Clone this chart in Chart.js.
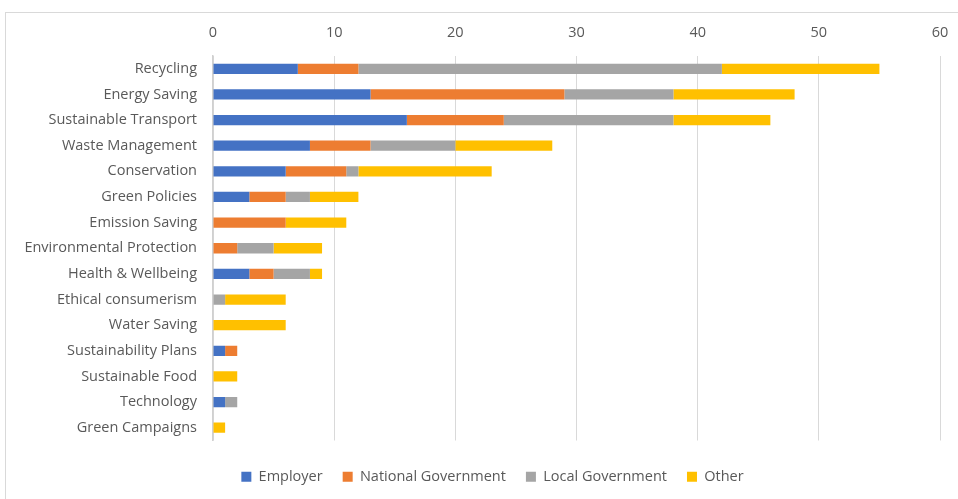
<!DOCTYPE html>
<html>
<head>
<meta charset="utf-8">
<script src="https://cdn.jsdelivr.net/npm/chart.js@4/dist/chart.umd.min.js"></script>
<style>
    body { margin: 0; background: #fff; }
    #frame { position: absolute; left: 5px; top: 12px; width: 960px; height: 500px; border: 1px solid #d9d9d9; box-sizing: border-box; }
    #chart { position: absolute; left: 5px; top: 12px; }
</style>
</head>
<body>
<div id="frame"></div>
<canvas id="chart" width="953" height="490"></canvas>
<script>
const categories = [
    'Recycling', 'Energy Saving', 'Sustainable Transport', 'Waste Management',
    'Conservation', 'Green Policies', 'Emission Saving', 'Environmental Protection',
    'Health & Wellbeing', 'Ethical consumerism', 'Water Saving', 'Sustainability Plans',
    'Sustainable Food', 'Technology', 'Green Campaigns'
];
const employer = [7, 13, 16, 8, 6, 3, 0, 0, 3, 0, 0, 1, 0, 1, 0];
const nationalGov = [5, 16, 8, 5, 5, 3, 6, 2, 2, 0, 0, 1, 0, 0, 0];
const localGov = [30, 9, 14, 7, 1, 2, 0, 3, 3, 1, 0, 0, 0, 1, 0];
const other = [13, 10, 8, 8, 11, 4, 5, 4, 1, 5, 6, 0, 2, 0, 1];
const xTicks = [0, 10, 20, 30, 40, 50, 60];

const FONT = { family: "'Open Sans', sans-serif", size: 14.5 };
const TEXT = '#595959';

function series(label, data, color) {
    return {
        label: label,
        data: data,
        backgroundColor: color,
        borderWidth: 0,
        barPercentage: 0.4,
        categoryPercentage: 1.0
    };
}

// legend sits a little right of the canvas centre in the original
const legendShift = {
    id: 'legendShift',
    afterLayout(chart) {
        chart.legend.left += 20;
        chart.legend.right += 20;
    }
};

const ctx = document.getElementById('chart').getContext('2d');
new Chart(ctx, {
    type: 'bar',
    data: {
        labels: categories,
        datasets: [
            series('Employer', employer, '#4472C4'),
            series('National Government', nationalGov, '#ED7D31'),
            series('Local Government', localGov, '#A5A5A5'),
            series('Other', other, '#FFC000')
        ]
    },
    plugins: [legendShift],
    options: {
        responsive: false,
        animation: false,
        indexAxis: 'y',
        layout: { padding: { left: 0, right: 18, top: 0, bottom: 8 } },
        plugins: {
            tooltip: { enabled: false },
            legend: {
                position: 'bottom',
                labels: {
                    boxWidth: 10,
                    boxHeight: 10,
                    padding: 20,
                    color: TEXT,
                    font: FONT
                }
            }
        },
        scales: {
            x: {
                position: 'top',
                stacked: true,
                min: 0,
                max: 60,
                afterBuildTicks: s => { s.ticks = xTicks.map(v => ({ value: v })); },
                afterFit: s => { s.height = 44; s.paddingLeft = 0; s.paddingRight = 0; },
                grid: { color: '#d9d9d9', lineWidth: 1, drawTicks: false },
                border: { display: false },
                ticks: { color: TEXT, font: FONT, padding: 14 }
            },
            x2: {
                position: 'bottom',
                display: true,
                afterFit: s => { s.height = 9; },
                grid: { display: false },
                border: { display: false },
                ticks: { display: false }
            },
            y: {
                stacked: true,
                afterFit: s => { s.width = 208; },
                grid: { display: false, drawTicks: false },
                border: { color: '#d0d0d0', width: 1.5 },
                ticks: { color: TEXT, font: FONT, padding: 16 }
            }
        }
    }
});
</script>
</body>
</html>
